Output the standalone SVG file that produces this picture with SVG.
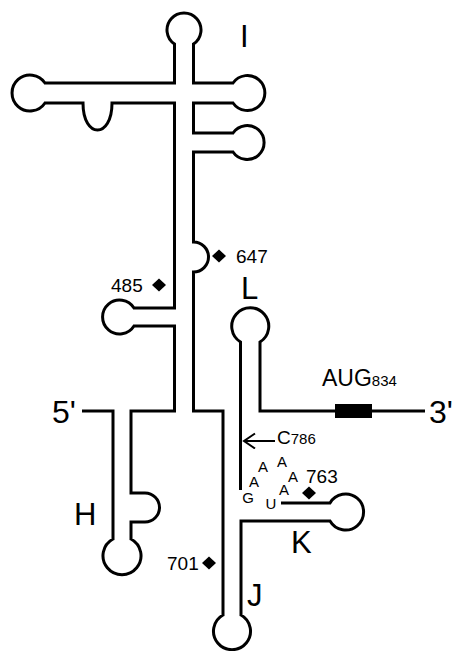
<svg xmlns="http://www.w3.org/2000/svg" width="453" height="651" viewBox="0 0 453 651">
<style>
.strand{fill:none;stroke:#000;stroke-width:3;stroke-linejoin:miter;stroke-linecap:butt}
.lbl{font-family:"Liberation Sans",Arial,sans-serif;font-size:31px;fill:#000}
.num{font-family:"Liberation Sans",Arial,sans-serif;font-size:19px;fill:#000}
.nt{font-family:"Liberation Sans",Arial,sans-serif;font-size:15px;fill:#000;text-anchor:middle}
.sub{font-size:15px}
.end{font-family:"Liberation Sans",Arial,sans-serif;font-size:32px;fill:#000}
</style>
<defs>
<path id="dia" d="M0,-6.5 L7,0 L0,6.5 L-7,0 Z" fill="#000"/>
<marker id="openArrow" markerWidth="14" markerHeight="18" refX="12" refY="8" orient="auto" markerUnits="userSpaceOnUse">
<path d="M1,0.5 L12,8 L1,15.5" fill="none" stroke="#000" stroke-width="2"/>
</marker>
</defs>
<rect width="453" height="651" fill="#fff"/>
<g id="strand-5prime-K">
<path class="strand" d="M82,411 L113,411 L113,539 A19,19 0 1 0 131,539 L131,522 L145,522 A14.5,14.5 0 0 0 145,493 L131,493 L131,411 L174.5,411 L174.5,326 L134,326 A17,17 0 1 1 134,308 L174.5,308 L174.5,103 L112,103 C112,139 83,139 83,103 L45,103 A18,18 0 1 1 45,83 L174.5,83 L174.5,44 A17,17 0 1 1 193.5,44 L193.5,83 L233,83 A17.5,17.5 0 1 1 233,103 L193.5,103 L193.5,133 L233,133 A17,17 0 1 1 233,152 L193.5,152 L193.5,242 A15,15 0 0 1 193.5,272 L193.5,411 L223,411 L223,615 A18.5,18.5 0 1 0 241,615 L241,521 L330,521 A18,18 0 1 0 330,503 L281,503"/>
</g>
<g id="strand-L-3prime">
<path class="strand" d="M240.5,490 L240.5,342 A18.5,18.5 0 1 1 260,342 L260,411 L425,411"/>
<rect x="335" y="404" width="37" height="14" fill="#000"/>
</g>
<g id="labels">
<text class="lbl" x="240" y="47">I</text>
<text class="lbl" x="241" y="299">L</text>
<text class="lbl" x="74" y="525">H</text>
<text class="lbl" x="291" y="553">K</text>
<text class="lbl" x="247" y="606">J</text>
<text class="end" x="52" y="423">5'</text>
<text class="end" x="429" y="423">3'</text>
<text class="lbl" x="322" y="386" style="font-size:23px">AUG<tspan class="sub">834</tspan></text>
<text class="num" x="277" y="444">C<tspan class="sub">786</tspan></text>
</g>
<g id="markers">
<use href="#dia" x="219" y="256"/>
<text class="num" x="236" y="263">647</text>
<use href="#dia" x="159" y="285"/>
<text class="num" x="111" y="292">485</text>
<use href="#dia" x="209" y="563"/>
<text class="num" x="167" y="570">701</text>
<use href="#dia" x="309" y="493"/>
<text class="num" x="306" y="483">763</text>
</g>
<g id="loop-nucleotides">
<text class="nt" x="248" y="503">G</text>
<text class="nt" x="254" y="487">A</text>
<text class="nt" x="263" y="472">A</text>
<text class="nt" x="282" y="467">A</text>
<text class="nt" x="293" y="482">A</text>
<text class="nt" x="284" y="495">A</text>
<text class="nt" x="271" y="509">U</text>
</g>
<g id="connectors">
<line x1="275" y1="441" x2="244" y2="441" stroke="#000" stroke-width="2" marker-end="url(#openArrow)"/>
</g>
</svg>
